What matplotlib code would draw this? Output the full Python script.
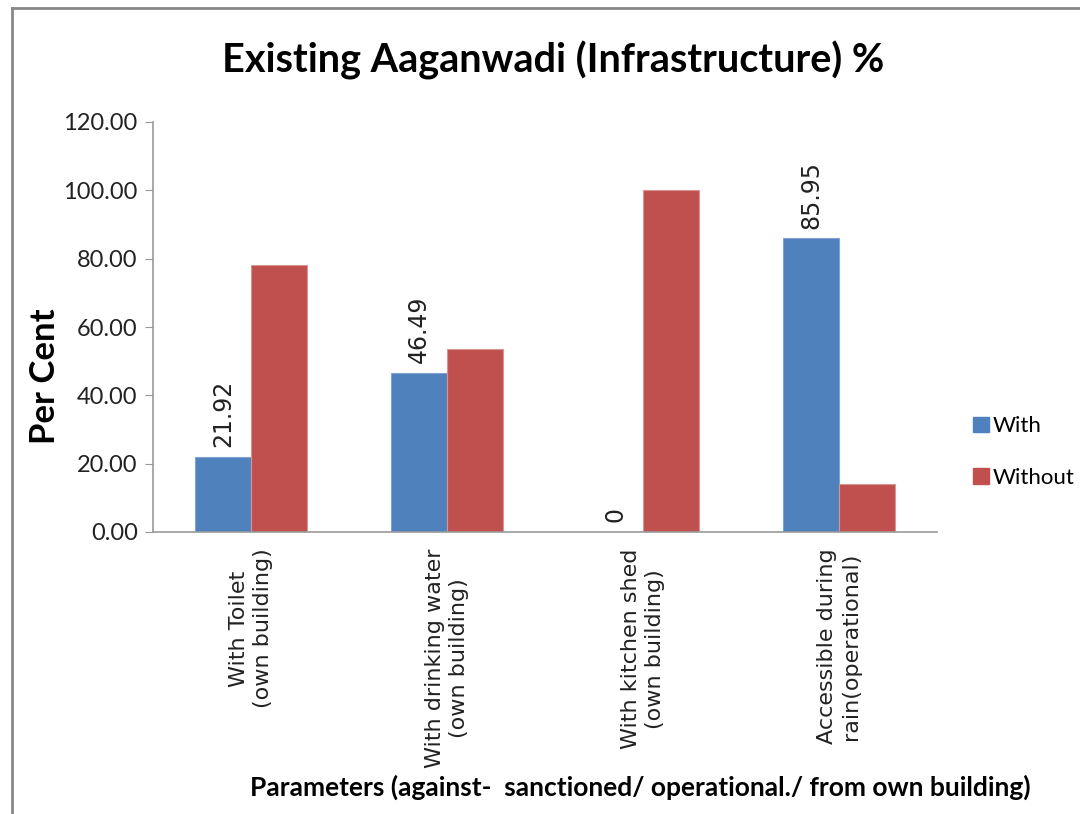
import matplotlib
matplotlib.use("Agg")
import matplotlib.pyplot as plt
import numpy as np
from matplotlib.lines import Line2D
from matplotlib.patches import Patch

categories = ["With Toilet\n(own building)", "With drinking water\n(own building)",
              "With kitchen shed\n(own building)", "Accessible during\nrain(operational)"]
with_vals = [21.92, 46.49, 0, 85.95]
without_vals = [78.08, 53.51, 100.0, 14.05]
with_labels = ["21.92", "46.49", "0", "85.95"]
yticks = [0, 20, 40, 60, 80, 100, 120]

blue = "#4F81BD"
red = "#C0504D"

fig = plt.figure(figsize=(10.8, 8.14), dpi=100)
ax = fig.add_axes([153/1080, 1-532/814, 784/1080, 410/814])

x = np.arange(len(categories))
w = 0.285
ax.bar(x - w/2, with_vals, w, color=blue, edgecolor="#7FA3D3", linewidth=0.8, label="With")
ax.bar(x + w/2, without_vals, w, color=red, edgecolor="#D99593", linewidth=0.8, label="Without")

for xi, v, t in zip(x, with_vals, with_labels):
    ax.annotate(t, (xi - w/2, v), xytext=(0, 7), textcoords="offset points",
                rotation=90, ha="center", va="bottom", fontsize=17,
                family="DejaVu Sans", color="#222222")

ax.set_xlim(-0.5, 3.5)
ax.set_ylim(0, 120)
ax.set_yticks(yticks)
ax.set_yticklabels([f"{v:.2f}" for v in yticks], fontsize=17, family="Lato", color="#222222")
ax.set_xticks(x)
ax.set_xticklabels(categories, rotation=90, fontsize=16, family="DejaVu Sans",
                   ha="center", va="top", multialignment="center", color="#222222",
                   linespacing=1.3)
ax.tick_params(axis="x", length=0, pad=12)
ax.tick_params(axis="y", length=6, color="#999999", pad=5, direction="out")
for s in ["top", "right"]:
    ax.spines[s].set_visible(False)
for s in ["left", "bottom"]:
    ax.spines[s].set_color("#999999")
    ax.spines[s].set_linewidth(1.2)

ax.set_ylabel("Per Cent", fontsize=25, fontweight="bold", family="Lato")
ax.yaxis.set_label_coords(-0.117, 0.38)

fig.text(553/1080, 1-60/814, "Existing Aaganwadi (Infrastructure) %", ha="center", va="center",
         fontsize=28.5, fontweight="bold", family="Lato")
fig.text(640/1080, 1-787/814, "Parameters (against-  sanctioned/ operational./ from own building)",
         ha="center", va="center", fontsize=19, fontweight="bold", family="Lato")

handles = [Patch(facecolor=blue, edgecolor=blue), Patch(facecolor=red, edgecolor=red)]
fig.legend(handles, ["With", "Without"], loc="center left", bbox_to_anchor=(973/1080, 1-452/814),
           frameon=False, handlelength=0.7, handleheight=0.7, handletextpad=0.2,
           labelspacing=1.4, borderaxespad=0, borderpad=0,
           prop={"family": "Lato", "size": 16})

# chart border (top and left)
fig.add_artist(Line2D([12/1080, 1], [1-8/814, 1-8/814], color="#888888", lw=2))
fig.add_artist(Line2D([12/1080, 12/1080], [0, 1-8/814], color="#888888", lw=2))

fig.savefig("out.png", dpi=100)
